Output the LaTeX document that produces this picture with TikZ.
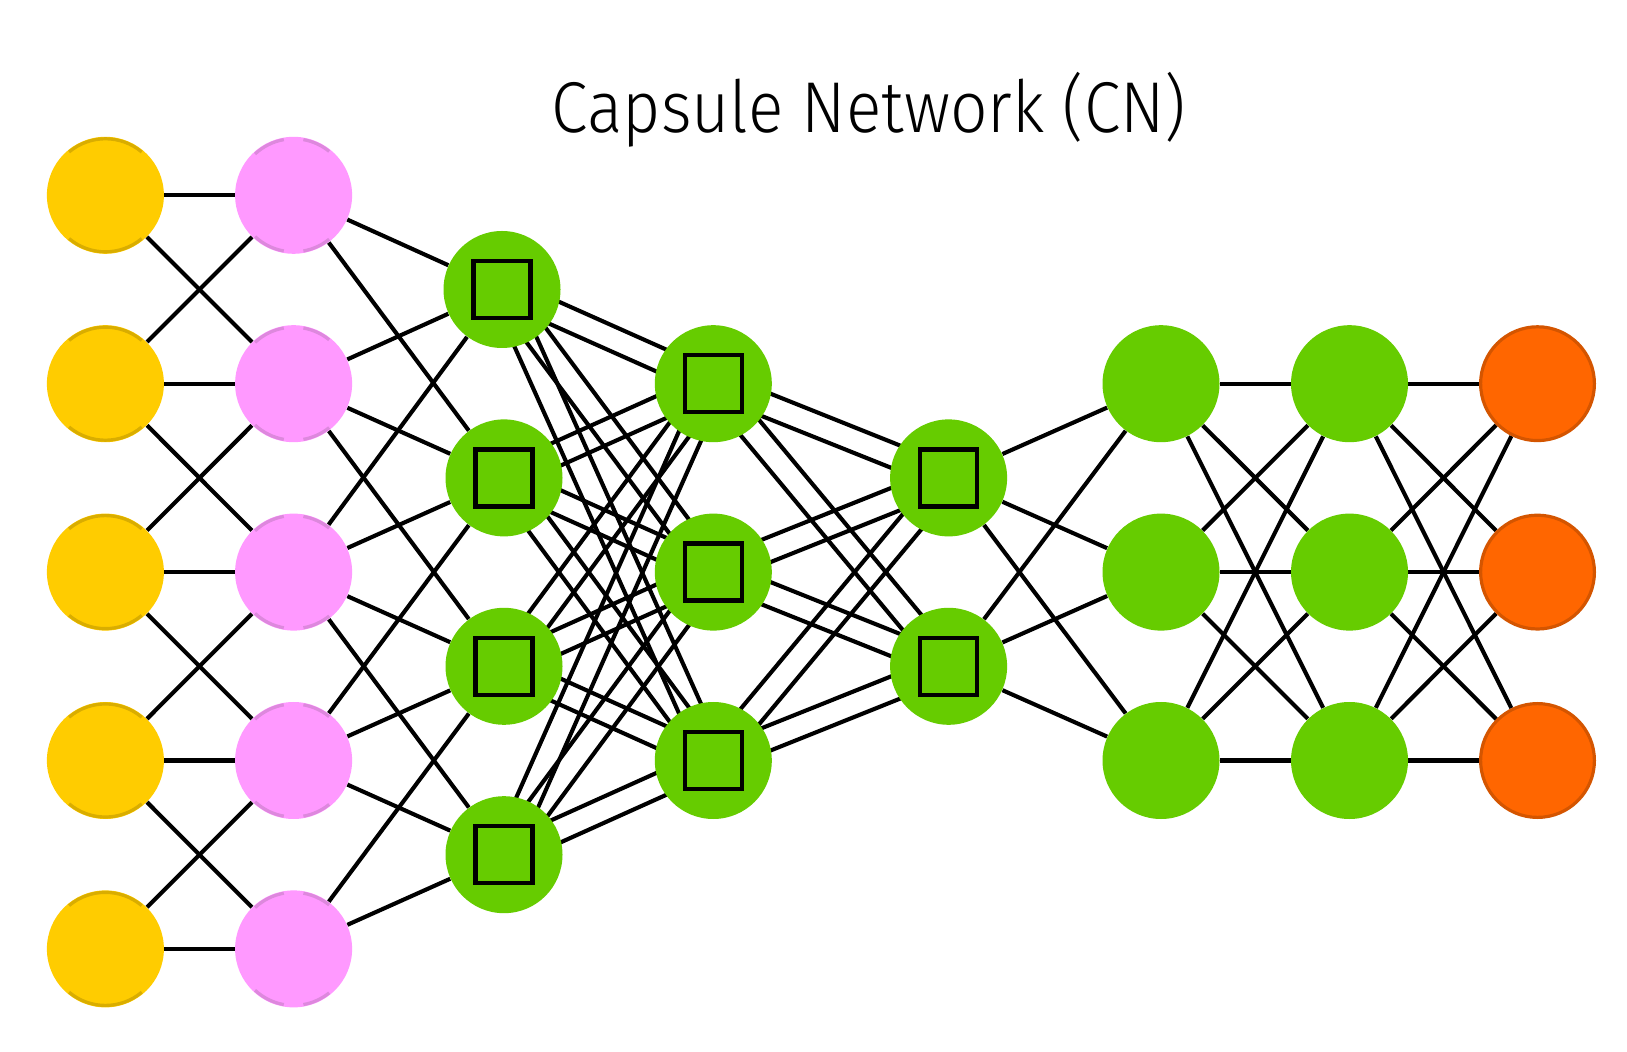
\documentclass[tikz,border=0pt]{standalone}
\usepackage{graphicx}
\usepackage{fontspec}
\newfontfamily\titlefont{Fira Sans Light}
\usetikzlibrary{calc}
\pgfdeclarelayer{back}
\pgfdeclarelayer{bg}
\pgfsetlayers{back,bg,main}
\definecolor{cyellow}{HTML}{FFCC00}
\definecolor{cyellowd}{HTML}{D9AD00}
\definecolor{cpink}{HTML}{FF99FF}
\definecolor{cpinkd}{HTML}{DD88DD}
\definecolor{cgreen}{HTML}{66CC00}
\definecolor{corange}{HTML}{FF6600}
\definecolor{coranged}{HTML}{D45500}
\begin{document}
\begin{tikzpicture}[x=0.5pt,y=-0.5pt,
  cell/.style={circle,minimum size=58.5pt,inner sep=0pt,draw=none},
  incell/.style={cell,fill=cyellow},
  kercell/.style={cell,fill=cpink},
  hidcell/.style={cell,fill=cgreen},
  capcell/.style={cell,fill=cgreen,path picture={\draw[line width=2.2pt] ([shift={(-14.25pt,-14.25pt)}]path picture bounding box.center) rectangle ([shift={(14.25pt,14.25pt)}]path picture bounding box.center);}},
  outcell/.style={cell,fill=corange,draw=coranged,line width=1.6pt,minimum size=56.9pt},
  link/.style={line width=2.05pt,black},
  yarc/.style={draw=cyellowd,line width=1.6pt},
  parc/.style={draw=cpinkd,line width=1.6pt},
]
\useasboundingbox (0,0) rectangle (1627,1052);
\begin{pgfonlayer}{back}
\fill[white] (0,0) rectangle (1627,1052);
\end{pgfonlayer}

% title
\node[anchor=base,inner sep=0pt] (title) at (869,132.7)
  {\resizebox{317pt}{\height}{\titlefont\fontsize{36}{40}\selectfont Capsule Network (CN)}};

% layers 1 and 2
\foreach \i/\y in {1/195.3,2/383.7,3/572.1,4/760.5,5/948.9} {
  \node[incell] (a\i) at (105.4,\y) {};
  \node[kercell] (b\i) at (293.6,\y) {};
}
% capsule layer 3
\node[capcell] (c1) at (502,289.5) {};
\node[capcell] (c2) at (504,477.9) {};
\node[capcell] (c3) at (504,666.3) {};
\node[capcell] (c4) at (504,854.7) {};
% capsule layer 4
\node[capcell] (d1) at (713.3,383.7) {};
\node[capcell] (d2) at (713.3,572.1) {};
\node[capcell] (d3) at (713.3,760.5) {};
% capsule layer 5
\node[capcell] (e1) at (948.6,477.9) {};
\node[capcell] (e2) at (948.6,666.3) {};
% layers 6,7,8
\foreach \i/\y in {1/383.7,2/572.1,3/760.5} {
  \node[hidcell] (f\i) at (1161,\y) {};
  \node[hidcell] (g\i) at (1349.5,\y) {};
  \node[outcell] (h\i) at (1537.5,\y) {};
}

% outline arcs
\foreach \i in {1,...,5} {
  \draw[yarc] ($(a\i.center)+(50:56.5)$) arc[start angle=50,end angle=130,radius=56.5];
  \draw[yarc] ($(a\i.center)+(230:56.5)$) arc[start angle=230,end angle=310,radius=56.5];
  \draw[parc] ($(b\i.center)+(51:56.5)$) arc[start angle=51,end angle=80,radius=56.5];
  \draw[parc] ($(b\i.center)+(100:56.5)$) arc[start angle=100,end angle=133,radius=56.5];
  \draw[parc] ($(b\i.center)+(227:56.5)$) arc[start angle=227,end angle=260,radius=56.5];
  \draw[parc] ($(b\i.center)+(280:56.5)$) arc[start angle=280,end angle=309,radius=56.5];
}

\begin{pgfonlayer}{bg}
  % layer 1 -> 2
  \foreach \i in {1,...,5} \draw[link] (a\i) -- (b\i);
  \foreach \i/\j in {1/2,2/3,3/4,4/5} {
    \draw[link] (a\i) -- (b\j);
    \draw[link] (a\j) -- (b\i);
  }
  % layer 2 -> 3
  \foreach \i/\j in {1/1,1/2,2/1,2/2,2/3,3/1,3/2,3/3,3/4,4/2,4/3,4/4,5/3,5/4}
    \draw[link] (b\i) -- (c\j);
  % layer 3 -> 4 (double)
  \foreach \i in {1,...,4} \foreach \j in {1,2,3} {
    \draw[link] ($(c\i)!6pt!90:(d\j)$) -- ($(d\j)!6pt!-90:(c\i)$);
    \draw[link] ($(c\i)!6pt!-90:(d\j)$) -- ($(d\j)!6pt!90:(c\i)$);
  }
  % layer 4 -> 5 (double)
  \foreach \i in {1,2,3} \foreach \j in {1,2} {
    \draw[link] ($(d\i)!6pt!90:(e\j)$) -- ($(e\j)!6pt!-90:(d\i)$);
    \draw[link] ($(d\i)!6pt!-90:(e\j)$) -- ($(e\j)!6pt!90:(d\i)$);
  }
  % layer 5 -> 6
  \foreach \i in {1,2} \foreach \j in {1,2,3} \draw[link] (e\i) -- (f\j);
  % layer 6 -> 7 -> 8
  \foreach \i in {1,2,3} \foreach \j in {1,2,3} {
    \draw[link] (f\i) -- (g\j);
    \draw[link] (g\i) -- (h\j);
  }
\end{pgfonlayer}
\end{tikzpicture}
\end{document}
